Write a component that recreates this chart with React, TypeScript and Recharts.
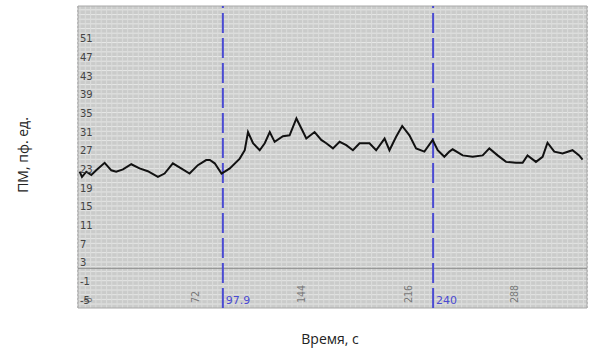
import React from "react";
import {
  LineChart, Line, XAxis, YAxis, CartesianGrid, ReferenceLine, ReferenceArea,
} from "recharts";

// time, s
const times = [
  1.1, 2.7, 5.6, 9.0, 12.3, 18.0, 22.5, 25.8, 30.4, 36.0, 41.6, 47.2, 54.0, 58.5, 64.1, 69.7,
  75.4, 81.0, 86.6, 89.1, 92.4, 97.0, 102.6, 109.3, 112.7, 114.9, 118.3, 122.8, 126.2, 129.6,
  132.9, 138.5, 143.0, 147.6, 150.9, 154.3, 159.9, 164.4, 167.8, 172.3, 176.8, 181.3, 185.8,
  190.3, 197.0, 201.5, 207.2, 210.5, 215.0, 219.1, 224.0, 228.5, 234.1, 239.7, 243.1, 247.6,
  251.0, 253.2, 260.0, 266.7, 273.5, 278.0, 283.6, 289.3, 296.0, 300.5, 303.8, 309.5, 314.0,
  317.3, 321.9, 327.5, 334.2, 338.7, 341.0,
];
// ПМ, пф. ед.
const pmValues = [
  22.5, 21.4, 22.5, 21.8, 22.8, 24.4, 22.8, 22.5, 23.0, 24.1, 23.2, 22.6, 21.4, 22.1, 24.3, 23.2,
  22.1, 23.9, 25.0, 25.0, 24.3, 22.1, 23.2, 25.3, 27.1, 31.0, 28.6, 27.1, 28.6, 31.0,
  28.9, 30.1, 30.3, 33.9, 31.8, 29.6, 31.0, 29.3, 28.6, 27.5, 28.9, 28.2, 27.1,
  28.6, 28.6, 27.1, 29.6, 27.1, 30.0, 32.3, 30.3, 27.5, 26.8, 29.3, 27.1, 25.7,
  26.8, 27.3, 26.0, 25.7, 26.0, 27.5, 26.0, 24.6, 24.4, 24.4, 26.0, 24.6, 25.7,
  28.7, 26.8, 26.4, 27.1, 26.0, 25.1,
];

const xTicks = [0, 72, 144, 216, 288];
const yTicks = [-5, -1, 3, 7, 11, 15, 19, 23, 27, 31, 35, 39, 43, 47, 51];
const xDomain = [0, 344];
const yDomain = [-6.7, 58];
const markers = [
  { t: 97.9, label: "97.9" },
  { t: 240, label: "240" },
];
const baseLevel = 1.8;

const data = times.map((t, i) => ({ t, pm: pmValues[i] }));

const BLUE = "#4b4bd2";

// eslint-disable-next-line @typescript-eslint/no-explicit-any
const XTick = ({ x, y, payload }: any) => (
  <text
    transform={`translate(${x + 14},${y - 3}) rotate(-90)`}
    textAnchor="start"
    fontSize={10}
    fontFamily="DejaVu Sans Mono"
    fill="#777"
  >
    {payload.value}
  </text>
);

// eslint-disable-next-line @typescript-eslint/no-explicit-any
const markerLabel = (text: string) => ({ viewBox }: any) => (
  <text x={viewBox.x + 3} y={viewBox.y + viewBox.height - 4} fontSize={11} fontFamily="DejaVu Sans" fill={BLUE}>
    {text}
  </text>
);

export default function App() {
  return (
    <div style={{ position: "absolute", left: 0, top: 0, width: 592, height: 350, background: "#fff" }}>
      <LineChart width={592} height={350} data={data} margin={{ top: 6, right: 5, bottom: 42, left: 78 }}>
        <defs>
          <pattern id="fineGrid" width="5.3" height="4.67" patternUnits="userSpaceOnUse">
            <rect width="5.3" height="4.67" fill="#cacbca" />
            <line x1="0" y1="0.5" x2="5.3" y2="0.5" stroke="#e6e7e6" strokeWidth={1} />
            <line x1="0.5" y1="0" x2="0.5" y2="4.67" stroke="#dbdcdb" strokeWidth={1} />
          </pattern>
        </defs>
        <ReferenceArea
          x1={xDomain[0]} x2={xDomain[1]} y1={yDomain[0]} y2={yDomain[1]}
          fill="url(#fineGrid)" fillOpacity={1} stroke="#a8a8a8" strokeWidth={1}
        />
        <CartesianGrid horizontal={false} stroke="#959595" strokeDasharray="2 2" />
        <XAxis
          dataKey="t" type="number" domain={xDomain} ticks={xTicks}
          mirror axisLine={false} tickLine={false} tickSize={0} tick={<XTick />}
          allowDataOverflow
        />
        <YAxis
          type="number" domain={yDomain} ticks={yTicks} mirror
          axisLine={false} tickLine={false} tickSize={0} tickMargin={2}
          tick={{ fontSize: 10, fill: "#444", fontFamily: "DejaVu Sans" }}
          allowDataOverflow
        />
        <ReferenceLine y={baseLevel} stroke="#8c8c8c" strokeWidth={1} />
        {markers.map(m => (
          <ReferenceLine
            key={m.label} x={m.t} stroke={BLUE} strokeWidth={2} strokeDasharray="20 5"
            label={markerLabel(m.label)}
          />
        ))}
        <Line
          type="linear" dataKey="pm" stroke="#111" strokeWidth={2} dot={false}
          isAnimationActive={false}
        />
      </LineChart>
      <div style={{
        position: "absolute", left: 22, top: 155, transform: "translate(-50%,-50%) rotate(-90deg)",
        whiteSpace: "nowrap", fontFamily: "Open Sans", fontSize: 14, color: "#222",
      }}>
        ПМ, пф. ед.
      </div>
      <div style={{
        position: "absolute", left: 330, top: 338, transform: "translate(-50%,-50%)",
        whiteSpace: "nowrap", fontFamily: "Open Sans", fontSize: 14, color: "#222",
      }}>
        Время, с
      </div>
    </div>
  );
}
